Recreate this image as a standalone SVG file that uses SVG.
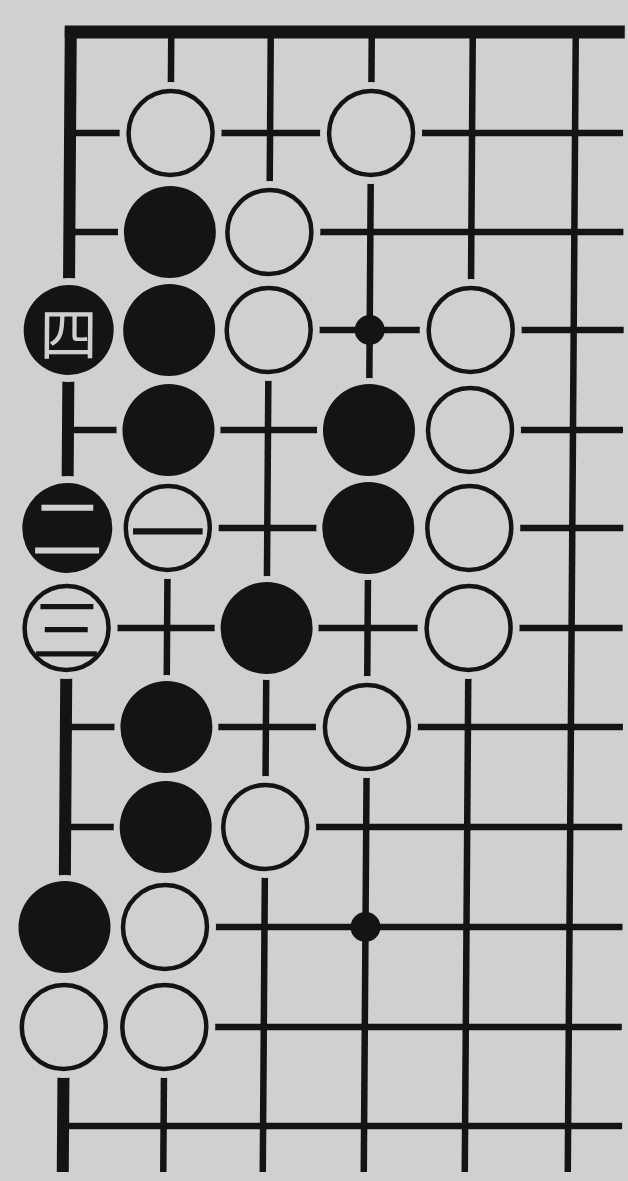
<svg xmlns="http://www.w3.org/2000/svg" width="628" height="1181" viewBox="0 0 628 1181">
<style>
.ln{stroke:#141414;stroke-linecap:butt;fill:none}
.thin{stroke-width:6.5}
.edge{stroke-width:13}
.halo{fill:#d0d0d0}
.w{fill:#d0d0d0;stroke:#141414;stroke-width:4.5}
.b{fill:#141414}
.star{fill:#141414}
.lw{fill:#d0d0d0;font-family:"Noto Sans CJK SC","Noto Sans CJK JP",sans-serif;text-anchor:middle;dominant-baseline:central}
.lb{fill:#141414;font-family:"Noto Sans CJK SC","Noto Sans CJK JP",sans-serif;text-anchor:middle;dominant-baseline:central}
</style>
<rect width="628" height="1181" fill="#d0d0d0"/>
<g transform="skewX(-0.402)">
<g id="connectors">
<line class="ln edge" x1="65" y1="32" x2="625" y2="32"/>
<line class="ln" stroke-width="12" x1="71" y1="26" x2="71" y2="1172"/>
<line class="ln thin" x1="171.5" y1="32" x2="171.5" y2="1172"/>
<line class="ln thin" x1="271" y1="32" x2="271" y2="1172"/>
<line class="ln thin" x1="372" y1="32" x2="372" y2="1172"/>
<line class="ln thin" x1="473" y1="32" x2="473" y2="1172"/>
<line class="ln thin" x1="576" y1="32" x2="576" y2="1172"/>
<line class="ln thin" x1="71" y1="133" x2="624" y2="133"/>
<line class="ln thin" x1="71" y1="232" x2="625" y2="232"/>
<line class="ln thin" x1="71" y1="330" x2="626" y2="330"/>
<line class="ln thin" x1="71" y1="430" x2="626" y2="430"/>
<line class="ln thin" x1="71" y1="528" x2="627" y2="528"/>
<line class="ln thin" x1="71" y1="628" x2="627" y2="628"/>
<line class="ln thin" x1="71" y1="727" x2="628" y2="727"/>
<line class="ln thin" x1="71" y1="827" x2="628" y2="827"/>
<line class="ln thin" x1="71" y1="927" x2="629" y2="927"/>
<line class="ln thin" x1="71" y1="1027" x2="629" y2="1027"/>
<line class="ln thin" x1="71" y1="1126" x2="630" y2="1126"/>
</g>
<g id="halos">
<circle class="halo" cx="171.5" cy="133" r="51"/>
<circle class="halo" cx="372" cy="133" r="51"/>
<circle class="halo" cx="171.5" cy="232" r="52"/>
<circle class="halo" cx="271" cy="232" r="51"/>
<circle class="halo" cx="71" cy="330" r="52"/>
<circle class="halo" cx="171.5" cy="330" r="52"/>
<circle class="halo" cx="271" cy="330" r="51"/>
<circle class="halo" cx="473" cy="330" r="51"/>
<circle class="halo" cx="171.5" cy="430" r="52"/>
<circle class="halo" cx="372" cy="430" r="52"/>
<circle class="halo" cx="473" cy="430" r="51"/>
<circle class="halo" cx="71" cy="528" r="52"/>
<circle class="halo" cx="171.5" cy="528" r="51"/>
<circle class="halo" cx="372" cy="528" r="52"/>
<circle class="halo" cx="473" cy="528" r="51"/>
<circle class="halo" cx="71" cy="628" r="51"/>
<circle class="halo" cx="271" cy="628" r="52"/>
<circle class="halo" cx="473" cy="628" r="51"/>
<circle class="halo" cx="171.5" cy="727" r="52"/>
<circle class="halo" cx="372" cy="727" r="51"/>
<circle class="halo" cx="171.5" cy="827" r="52"/>
<circle class="halo" cx="271" cy="827" r="51"/>
<circle class="halo" cx="71" cy="927" r="52"/>
<circle class="halo" cx="171.5" cy="927" r="51"/>
<circle class="halo" cx="71" cy="1027" r="51"/>
<circle class="halo" cx="171.5" cy="1027" r="51"/>
</g>
<g id="w-r1-c2"><circle class="w" cx="171.5" cy="133" r="42"/></g>
<g id="w-r1-c4"><circle class="w" cx="372" cy="133" r="42"/></g>
<g id="b-r2-c2"><circle class="b" cx="171.5" cy="232" r="46"/></g>
<g id="w-r2-c3"><circle class="w" cx="271" cy="232" r="42"/></g>
<g id="b-r3-c1-si"><circle class="b" cx="71" cy="330" r="45"/><text class="lw" x="71" y="331" font-size="58">四</text></g>
<g id="b-r3-c2"><circle class="b" cx="171.5" cy="330" r="46"/></g>
<g id="w-r3-c3"><circle class="w" cx="271" cy="330" r="42"/></g>
<g id="star-r3-c4"><circle class="star" cx="372" cy="330" r="15"/></g>
<g id="w-r3-c5"><circle class="w" cx="473" cy="330" r="42"/></g>
<g id="b-r4-c2"><circle class="b" cx="171.5" cy="430" r="46"/></g>
<g id="b-r4-c4"><circle class="b" cx="372" cy="430" r="46"/></g>
<g id="w-r4-c5"><circle class="w" cx="473" cy="430" r="42"/></g>
<g id="b-r5-c1-er"><circle class="b" cx="71" cy="528" r="45"/><text class="lw" x="71" y="524" font-size="72">二</text></g>
<g id="w-r5-c2-yi"><circle class="w" cx="171.5" cy="528" r="42"/><text class="lb" x="171.5" y="528" font-size="76">一</text></g>
<g id="b-r5-c4"><circle class="b" cx="372" cy="528" r="46"/></g>
<g id="w-r5-c5"><circle class="w" cx="473" cy="528" r="42"/></g>
<g id="w-r6-c1-san"><circle class="w" cx="71" cy="628" r="42"/><text class="lb" x="71" y="626" font-size="70">三</text></g>
<g id="b-r6-c3"><circle class="b" cx="271" cy="628" r="46"/></g>
<g id="w-r6-c5"><circle class="w" cx="473" cy="628" r="42"/></g>
<g id="b-r7-c2"><circle class="b" cx="171.5" cy="727" r="46"/></g>
<g id="w-r7-c4"><circle class="w" cx="372" cy="727" r="42"/></g>
<g id="b-r8-c2"><circle class="b" cx="171.5" cy="827" r="46"/></g>
<g id="w-r8-c3"><circle class="w" cx="271" cy="827" r="42"/></g>
<g id="b-r9-c1"><circle class="b" cx="71" cy="927" r="46"/></g>
<g id="w-r9-c2"><circle class="w" cx="171.5" cy="927" r="42"/></g>
<g id="star-r9-c4"><circle class="star" cx="372" cy="927" r="15"/></g>
<g id="w-r10-c1"><circle class="w" cx="71" cy="1027" r="42"/></g>
<g id="w-r10-c2"><circle class="w" cx="171.5" cy="1027" r="42"/></g>
</g>
</svg>
